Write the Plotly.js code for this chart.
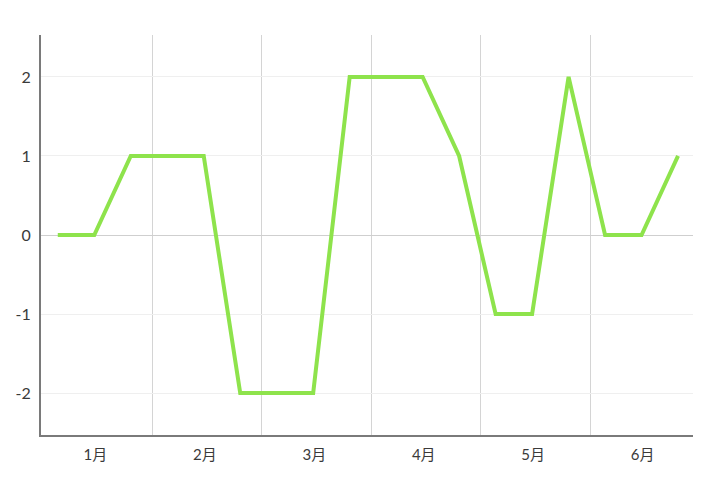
<!DOCTYPE html>
<html>
<head>
<meta charset="utf-8">
<script src="https://cdn.plot.ly/plotly-3.0.1.min.js"></script>
<style>html,body{margin:0;padding:0;background:#fff;}#chart{width:720px;height:489px;}</style>
</head>
<body>
<div id="chart"></div>
<script>
// Data
const months = ['1月', '2月', '3月', '4月', '5月', '6月'];
const pointsPerMonth = 3;
const values = [0, 0, 1, 1, 1, -2, -2, -2, 2, 2, 2, 1, -1, -1, 2, 0, 0, 1];
const yTicks = [-2, -1, 0, 1, 2];

const xIdx = values.map((_, i) => i);
const labelPos = months.map((_, k) => k * pointsPerMonth + 1.03);
const boundaryPos = months.slice(1).map((_, k) => k * pointsPerMonth + 2.59);

const trace = {
  x: xIdx,
  y: values,
  type: 'scatter',
  mode: 'lines',
  line: {color: '#8ee34c', width: 4},
  hoverinfo: 'skip'
};

const layout = {
  width: 720, height: 489,
  margin: {l: 41, r: 27, t: 35, b: 54},
  paper_bgcolor: '#ffffff', plot_bgcolor: '#ffffff',
  showlegend: false,
  font: {family: 'Lato, "Noto Sans CJK JP", sans-serif', size: 15, color: '#3a3a3a'},
  xaxis: {
    range: [-0.46, 17.41],
    tickmode: 'array', tickvals: labelPos, ticktext: months,
    showgrid: false, zeroline: false,
    showline: true, linecolor: '#7a7a7a', linewidth: 2,
    ticks: '', ticklabelstandoff: 5,
    tickfont: {size: 15, color: '#3a3a3a'},
    minor: {tickmode: 'array', tickvals: boundaryPos, showgrid: true, gridcolor: '#d4d4d4', gridwidth: 1, ticks: ''},
    fixedrange: true
  },
  yaxis: {
    range: [-2.53, 2.53],
    tickmode: 'array', tickvals: yTicks, ticktext: yTicks.map(String),
    showgrid: true, gridcolor: '#efefef', gridwidth: 1,
    zeroline: true, zerolinecolor: '#cfcfcf', zerolinewidth: 1,
    showline: true, linecolor: '#7a7a7a', linewidth: 2,
    ticks: '', ticklabelstandoff: 5,
    tickfont: {size: 16, color: '#3a3a3a'},
    fixedrange: true
  }
};

Plotly.newPlot('chart', [trace], layout, {displayModeBar: false, staticPlot: true});
</script>
</body>
</html>
